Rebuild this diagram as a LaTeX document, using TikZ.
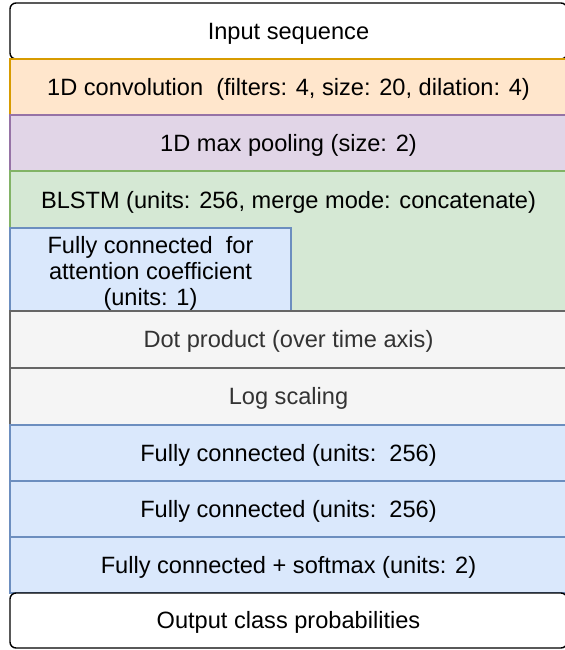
\documentclass[tikz,border=0pt]{standalone}
\usepackage{fontspec}
\setmainfont{Liberation Sans}
\usetikzlibrary{positioning}

\definecolor{convfill}{HTML}{FFE6CC}
\definecolor{convdraw}{HTML}{D79B00}
\definecolor{poolfill}{HTML}{E1D5E7}
\definecolor{pooldraw}{HTML}{9673A6}
\definecolor{lstmfill}{HTML}{D5E8D4}
\definecolor{lstmdraw}{HTML}{82B366}
\definecolor{densefill}{HTML}{DAE8FC}
\definecolor{densedraw}{HTML}{6C8EBF}
\definecolor{opfill}{HTML}{F5F5F5}
\definecolor{opdraw}{HTML}{666666}
\definecolor{optext}{HTML}{333333}

\begin{document}
\begin{tikzpicture}[
font=\fontsize{11.8}{13}\selectfont,
layer/.style={draw, shape=rectangle, outer sep=0pt, inner sep=0pt, line width=0.7pt,
  minimum width=278.5pt, minimum height=28pt, text height=0.8em, text depth=0pt},
node distance=0pt
]

\tikzstyle{io} = [layer, rounded corners=3pt, draw=black, fill=white]
\tikzstyle{conv} = [layer, draw=convdraw, fill=convfill]
\tikzstyle{pool} = [layer, draw=pooldraw, fill=poolfill]
\tikzstyle{lstm} = [layer, draw=lstmdraw, fill=lstmfill]
\tikzstyle{dense} = [layer, draw=densedraw, fill=densefill]
\tikzstyle{op} = [layer, draw=opdraw, fill=opfill, text=optext, minimum height=28.5pt]

\useasboundingbox (0,0) rectangle (282.5pt,-325pt);
\clip (0,0) rectangle (282.5pt,-325pt);

\node[io, anchor=north west] (input) at (5pt,-1.5pt) {Input sequence};
\node[conv, below=of input] (conv) {1D convolution~~(filters: 4, size: 20, dilation: 4)};
\node[pool, below=of conv] (pool) {1D max pooling (size: 2)};
\node[lstm, below=of pool, minimum height=70pt] (blstm) {};
\node (blstmtext) at ([yshift=-15.5pt]blstm.north) {BLSTM (units: 256, merge mode: concatenate)};
\node[dense, anchor=south west, minimum width=140.5pt, minimum height=41.5pt]
  (attn) at (blstm.south west) {};
\node[align=center] (attntext) at ([yshift=-2pt]attn.center) {Fully connected~~for\\attention coefficient\\(units: 1)};
\node[op, below=of blstm] (dot) {Dot product (over time axis)};
\node[op, below=of dot] (logsc) {Log scaling};
\node[dense, below=of logsc] (fc1) {Fully connected (units:~~256)};
\node[dense, below=of fc1] (fc2) {Fully connected (units:~~256)};
\node[dense, below=of fc2] (fc3) {Fully connected + softmax (units: 2)};
\node[io, below=of fc3, minimum height=27.5pt] (output) {Output class probabilities};
\end{tikzpicture}
\end{document}
